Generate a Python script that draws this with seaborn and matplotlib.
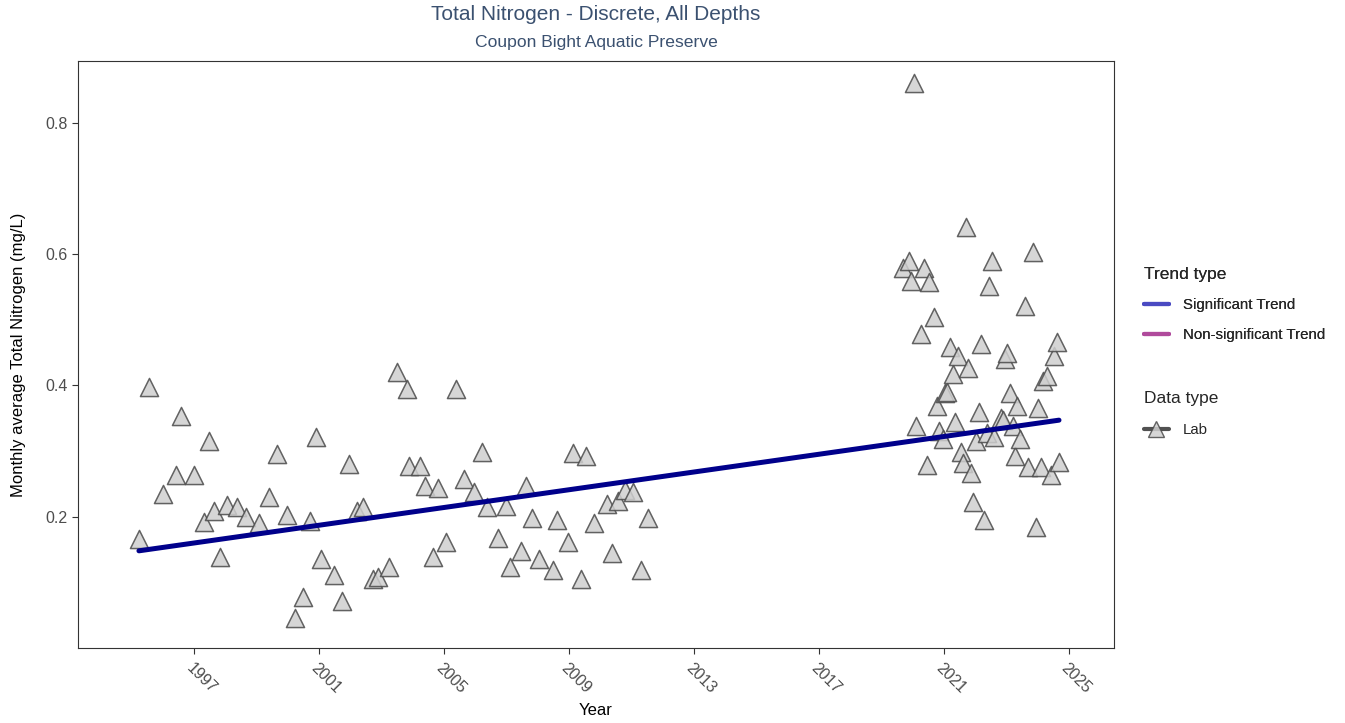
import matplotlib
matplotlib.use("Agg")
import matplotlib.pyplot as plt
import seaborn as sns
import pandas as pd
from matplotlib.lines import Line2D

# Monthly average total nitrogen (decimal year, mg/L)
years = [
    1995.24, 1995.56, 1996.01, 1996.42, 1996.58, 1997.00, 1997.32, 1997.48, 1997.64, 1997.83,
    1998.06, 1998.38, 1998.66, 1999.08, 1999.40, 1999.66, 1999.98, 2000.23, 2000.49, 2000.71,
    2000.90, 2001.06, 2001.48, 2001.74, 2001.96, 2002.22, 2002.41, 2002.73, 2002.89, 2003.24,
    2003.50, 2003.82, 2003.88, 2004.23, 2004.39, 2004.65, 2004.81, 2005.06, 2005.38, 2005.64,
    2005.96, 2006.22, 2006.38, 2006.73, 2006.98, 2007.11, 2007.46, 2007.62, 2007.82, 2008.04,
    2008.49, 2008.62, 2008.97, 2009.13, 2009.38, 2009.54, 2009.80, 2010.22, 2010.38, 2010.57,
    2010.79, 2011.05, 2011.30, 2011.53,
    2019.69, 2019.88, 2019.94, 2020.04, 2020.10, 2020.26, 2020.36, 2020.46, 2020.52, 2020.68,
    2020.78, 2020.84, 2020.97, 2021.03, 2021.10, 2021.19, 2021.29, 2021.35, 2021.45, 2021.54,
    2021.61, 2021.70, 2021.77, 2021.86, 2021.93, 2022.02, 2022.12, 2022.18, 2022.28, 2022.38,
    2022.44, 2022.54, 2022.60, 2022.82, 2022.89, 2022.95, 2023.02, 2023.11, 2023.21, 2023.27,
    2023.34, 2023.43, 2023.59, 2023.69, 2023.85, 2023.94, 2024.01, 2024.10, 2024.17, 2024.30,
    2024.42, 2024.52, 2024.62, 2024.68,
]
nitrogen = [
    0.166, 0.397, 0.234, 0.263, 0.353, 0.264, 0.192, 0.316, 0.209, 0.139,
    0.218, 0.215, 0.199, 0.191, 0.230, 0.296, 0.202, 0.046, 0.078, 0.194,
    0.322, 0.136, 0.111, 0.072, 0.280, 0.208, 0.215, 0.105, 0.108, 0.124,
    0.420, 0.394, 0.277, 0.277, 0.246, 0.139, 0.244, 0.162, 0.394, 0.258,
    0.237, 0.298, 0.215, 0.168, 0.217, 0.124, 0.148, 0.246, 0.198, 0.136,
    0.119, 0.195, 0.162, 0.297, 0.105, 0.293, 0.190, 0.220, 0.145, 0.224,
    0.241, 0.237, 0.119, 0.198,
    0.579, 0.589, 0.559, 0.860, 0.338, 0.478, 0.579, 0.278, 0.557, 0.504,
    0.368, 0.330, 0.318, 0.388, 0.390, 0.458, 0.418, 0.344, 0.444, 0.298,
    0.282, 0.641, 0.427, 0.266, 0.223, 0.315, 0.359, 0.463, 0.195, 0.328,
    0.551, 0.589, 0.322, 0.350, 0.348, 0.440, 0.449, 0.388, 0.338, 0.292,
    0.368, 0.318, 0.521, 0.276, 0.603, 0.185, 0.366, 0.276, 0.406, 0.414,
    0.264, 0.444, 0.466, 0.284,
]

# Fitted trend (significant)
trend_years = [1995.24, 2024.68]
trend_values = [0.148, 0.347]

tick_years = [1997, 2001, 2005, 2009, 2013, 2017, 2021, 2025]

df = pd.DataFrame({"Year": years, "TN": nitrogen})
trend = pd.DataFrame({"Year": trend_years, "TN": trend_values})

sns.set_theme(style="white")
plt.rcParams["font.family"] = ["Arial", "Liberation Sans", "DejaVu Sans"]

fig = plt.figure(figsize=(13.45, 7.23), dpi=100)
ax = fig.add_axes([78 / 1345, 1 - 648 / 723, (1114 - 78) / 1345, (648 - 61) / 723])

sns.scatterplot(data=df, x="Year", y="TN", marker="^", s=170, color="#cfcfcf",
                edgecolor="#4a4a4a", linewidth=1.1, alpha=0.85, ax=ax, zorder=3)
sns.lineplot(data=trend, x="Year", y="TN", color="#00008b", linewidth=3.6, ax=ax, zorder=4)

ax.set_xlim(1993.29, 2026.44)
ax.set_ylim(0.0, 0.894)
ax.set_xticks(tick_years)
ax.set_xticklabels([str(y) for y in tick_years], rotation=-45, ha="left",
                   rotation_mode="anchor")
ax.set_yticks([0.2, 0.4, 0.6, 0.8])
ax.set_yticklabels(["0.2", "0.4", "0.6", "0.8"])
ax.tick_params(axis="both", which="major", labelsize=11.5, labelcolor="#4d4d4d",
               length=4, width=0.8, color="#333333", direction="out",
               bottom=True, left=True)
ax.tick_params(axis="x", pad=5)
for sp in ax.spines.values():
    sp.set_color("#333333")
    sp.set_linewidth(0.8)

ax.set_xlabel("Year", fontsize=12, color="black", labelpad=5)
ax.set_ylabel("Monthly average Total Nitrogen (mg/L)", fontsize=12, color="black", labelpad=14)

fig.text(596 / 1345, 1 - 15 / 723, "Total Nitrogen - Discrete, All Depths",
         ha="center", va="center", fontsize=15, color="#3b5170")
fig.text(596 / 1345, 1 - 43 / 723, "Coupon Bight Aquatic Preserve",
         ha="center", va="center", fontsize=12.6, color="#3b5170")

trend_handles = [
    Line2D([], [], color="#4a4ac2", linewidth=3),
    Line2D([], [], color="#b04a9c", linewidth=3),
]
leg1 = fig.legend(trend_handles, ["Significant Trend", "Non-significant Trend"],
                  title="Trend type", loc="upper left",
                  bbox_to_anchor=(1130 / 1345, 1 - 253 / 723), frameon=False,
                  fontsize=10.8, title_fontsize=12.5, handlelength=1.7,
                  handletextpad=0.95, labelspacing=1.1, alignment="left")
fig.add_artist(leg1)

lab_handle = Line2D([], [], color="#333333", linewidth=3, marker="^", markersize=12,
                    markerfacecolor="#cfcfcf", markeredgecolor="#4a4a4a", alpha=0.85)
fig.legend([lab_handle], ["Lab"], title="Data type", loc="upper left",
           bbox_to_anchor=(1130 / 1345, 1 - 377 / 723), frameon=False,
           fontsize=10.8, title_fontsize=12.5, handlelength=1.7,
           handletextpad=0.95, labelspacing=1.2, alignment="left")

fig.savefig("out.png", dpi=100)
